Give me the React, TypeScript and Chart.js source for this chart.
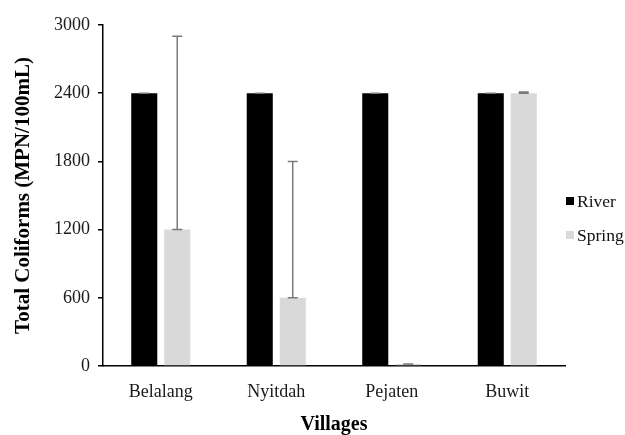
import React, { useEffect, useRef } from "react";
import { Chart, registerables } from "chart.js";

Chart.register(...registerables);

const categories = ["Belalang", "Nyitdah", "Pejaten", "Buwit"];
const riverValues = [2400, 2400, 2400, 2400];
const springValues = [1200, 600, 18, 2400];
const riverErrors = [0, 0, 0, 0];
const springErrors = [1700, 1200, 0, 10];
const yMin = 0;
const yMax = 3000;
const yStep = 600;

const SERIF = '"Liberation Serif", "Times New Roman", serif';

const errorBarPlugin = {
  id: "errorBars",
  afterDatasetsDraw(chart: any) {
    const { ctx } = chart;
    const yScale = chart.scales.y;
    chart.data.datasets.forEach((ds: any, i: number) => {
      const meta = chart.getDatasetMeta(i);
      const errs: number[] = ds.errors || [];
      meta.data.forEach((el: any, j: number) => {
        const v = ds.data[j];
        const e = errs[j] || 0;
        const x = el.x;
        const y0 = yScale.getPixelForValue(v);
        const y1 = yScale.getPixelForValue(v + e);
        ctx.save();
        ctx.strokeStyle = "#7a7a7a";
        ctx.lineWidth = 1.5;
        ctx.beginPath();
        ctx.moveTo(x, y0);
        ctx.lineTo(x, y1);
        ctx.moveTo(x - 5, y1);
        ctx.lineTo(x + 5, y1);
        ctx.moveTo(x - 5, y0);
        ctx.lineTo(x + 5, y0);
        ctx.stroke();
        ctx.restore();
      });
    });
  },
};

const legendPlugin = {
  id: "customLegend",
  afterDraw(chart: any) {
    const { ctx } = chart;
    const x = 566;
    const ys = [201, 235];
    ctx.save();
    ctx.font = `17.5px ${SERIF}`;
    ctx.textBaseline = "alphabetic";
    ctx.textAlign = "left";
    chart.data.datasets.forEach((ds: any, i: number) => {
      const cy = ys[i];
      ctx.fillStyle = ds.backgroundColor;
      ctx.fillRect(x, cy - 4, 8, 8);
      ctx.fillStyle = "#111";
      ctx.fillText(ds.label, x + 11, cy + 6);
    });
    ctx.restore();
  },
};

export default function App() {
  const canvasRef = useRef<HTMLCanvasElement | null>(null);

  useEffect(() => {
    document.body.style.margin = "0";
    const canvas = canvasRef.current;
    if (!canvas) return;
    const chart = new Chart(canvas, {
      type: "bar",
      data: {
        labels: categories,
        datasets: [
          {
            label: "River",
            data: riverValues,
            errors: riverErrors,
            backgroundColor: "#000000",
            borderWidth: 0,
            categoryPercentage: 0.571,
            barPercentage: 0.79,
          } as any,
          {
            label: "Spring",
            data: springValues,
            errors: springErrors,
            backgroundColor: "#d9d9d9",
            borderWidth: 0,
            categoryPercentage: 0.571,
            barPercentage: 0.79,
          } as any,
        ],
      },
      options: {
        responsive: false,
        animation: false,
        devicePixelRatio: 1,
        layout: { padding: { left: 0, right: 60, top: 25, bottom: 0 } },
        plugins: {
          legend: { display: false },
          tooltip: { enabled: false },
        },
        scales: {
          x: {
            grid: { display: false },
            border: { display: true, color: "#000", width: 1.5 },
            ticks: {
              color: "#1a1a1a",
              font: { family: SERIF, size: 18 },
              padding: 7,
            },
            title: {
              display: true,
              text: "Villages",
              color: "#000",
              font: { family: SERIF, size: 20, weight: "bold" },
              padding: { top: 0, bottom: -2 },
            },
            afterFit(scale: any) {
              scale.height = 69;
            },
          },
          y: {
            min: yMin,
            max: yMax,
            ticks: {
              stepSize: yStep,
              color: "#1a1a1a",
              font: { family: SERIF, size: 18 },
              padding: 8,
              callback: (v: any) => String(v),
            },
            grid: {
              display: true,
              drawOnChartArea: false,
              drawTicks: true,
              tickLength: 5,
              color: "#000",
              lineWidth: 1.5,
            },
            border: { display: true, color: "#000", width: 1.5 },
            title: {
              display: true,
              text: "Total Coliforms (MPN/100mL)",
              color: "#000",
              font: { family: SERIF, size: 21, weight: "bold" },
              padding: { top: 11, bottom: 0 },
            },
            afterFit(scale: any) {
              scale.width = 103;
            },
          },
        },
      },
      plugins: [errorBarPlugin, legendPlugin],
    });
    return () => chart.destroy();
  }, []);

  return (
    <div style={{ width: 625, height: 435 }}>
      <canvas ref={canvasRef} width={625} height={435} />
    </div>
  );
}
